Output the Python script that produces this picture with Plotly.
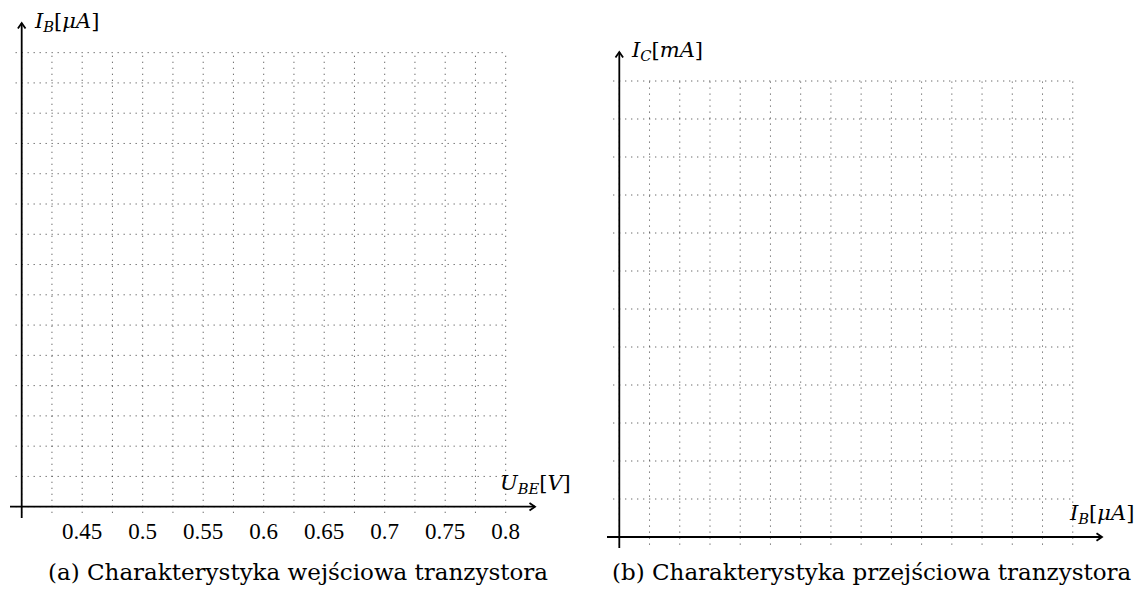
import plotly.graph_objects as go

W, H = 1139, 589

# ---------------- data ----------------
# (a) input characteristic: U_BE [V] on x, I_B [uA] on y (empty grid)
ube_ticks = [0.45, 0.5, 0.55, 0.6, 0.65, 0.7, 0.75, 0.8]
ube_ticktext = ["0.45", "0.5", "0.55", "0.6", "0.65", "0.7", "0.75", "0.8"]
ube_grid = [0.4, 0.425, 0.45, 0.475, 0.5, 0.525, 0.55, 0.575, 0.6,
            0.625, 0.65, 0.675, 0.7, 0.725, 0.75, 0.775, 0.8]
ib_rows = [0, 1, 2, 3, 4, 5, 6, 7, 8, 9, 10, 11, 12, 13, 14, 15]

# (b) transfer characteristic: I_B [uA] on x, I_C [mA] on y (empty grid)
ib_cols = [0, 1, 2, 3, 4, 5, 6, 7, 8, 9, 10, 11, 12, 13, 14, 15]
ic_rows = [0, 1, 2, 3, 4, 5, 6, 7, 8, 9, 10, 11, 12]

captions = ["(a) Charakterystyka wejściowa tranzystora",
            "(b) Charakterystyka przejściowa tranzystora"]

# ---------------- geometry (pixels) ----------------
L = dict(x0=21.7, xs=30.25 / 0.025, y0=506.7, ys=30.27, xbase=0.4,
         dom_x=(2, 565), dom_y=(8, 520))
R = dict(x0=619.3, xs=30.23, y0=537.0, ys=38.0, xbase=0.0,
         dom_x=(598, 1125), dom_y=(40, 556))

TICKFONT = "Liberation Serif, DejaVu Serif, serif"
TEXTFONT = "DejaVu Serif, Liberation Serif, serif"


def px2x(g, px):
    return g["xbase"] + (px - g["x0"]) / g["xs"]


def px2y(g, py):
    return (g["y0"] - py) / g["ys"]


def paper_x(px):
    return px / W


def paper_y(py):
    return 1 - py / H


fig = go.Figure()


def panel(g, xgrid, yrows, xa, ya, ax_x_px, ax_y_px):
    # dotted grid
    gx, gy = [], []
    ylo = yrows[0] - 0.2
    for v in xgrid:
        gx += [v, v, None]
        gy += [ylo, yrows[-1], None]
    xlo = xgrid[0] - 0.2 * (xgrid[1] - xgrid[0])
    for r in yrows:
        gx += [xlo, xgrid[-1], None]
        gy += [r, r, None]
    fig.add_trace(go.Scatter(x=gx, y=gy, mode="lines", xaxis=xa, yaxis=ya,
                             line=dict(color="#3a3a3a", width=1, dash="1px,5px"),
                             hoverinfo="skip", showlegend=False))
    # axes lines
    x_axis0 = xgrid[0]
    xs0, xs1 = px2x(g, ax_x_px[0]), px2x(g, ax_x_px[1])
    ys0, ys1 = px2y(g, ax_y_px[0]), px2y(g, ax_y_px[1])
    ax = [xs0, xs1, None, x_axis0, x_axis0, None]
    ay = [0, 0, None, ys0, ys1, None]
    # arrowheads (open chevrons)
    hx = 5.5 / g["xs"]
    hy = 5.5 / g["ys"]
    wx = 3.8 / g["xs"]
    wy = 3.8 / g["ys"]
    ax += [xs1 - hx, xs1, xs1 - hx, None]
    ay += [wy, 0, -wy, None]
    ax += [x_axis0 - wx, x_axis0, x_axis0 + wx, None]
    ay += [ys1 - hy, ys1, ys1 - hy, None]
    fig.add_trace(go.Scatter(x=ax, y=ay, mode="lines", xaxis=xa, yaxis=ya,
                             line=dict(color="black", width=1.8),
                             hoverinfo="skip", showlegend=False))


panel(L, ube_grid, ib_rows, "x", "y", (10, 535), (518, 23))
panel(R, ib_cols, ic_rows, "x2", "y2", (607, 1102), (548, 52))


def axis_layout(g, dom_x, dom_y):
    xr = [px2x(g, dom_x[0]), px2x(g, dom_x[1])]
    yr = [px2y(g, dom_y[1]), px2y(g, dom_y[0])]
    xd = [paper_x(dom_x[0]), paper_x(dom_x[1])]
    yd = [paper_y(dom_y[1]), paper_y(dom_y[0])]
    return xr, yr, xd, yd


xr, yr, xd, yd = axis_layout(L, L["dom_x"], L["dom_y"])
xr2, yr2, xd2, yd2 = axis_layout(R, R["dom_x"], R["dom_y"])

common = dict(showgrid=False, zeroline=False, showline=False, fixedrange=True)
fig.update_layout(
    width=W, height=H,
    margin=dict(l=0, r=0, t=0, b=0),
    paper_bgcolor="white", plot_bgcolor="white",
    showlegend=False,
    font=dict(family=TEXTFONT, size=21, color="black"),
    xaxis=dict(domain=xd, range=xr, tickvals=ube_ticks, ticktext=ube_ticktext,
               ticks="", ticklabelstandoff=-5,
               tickfont=dict(family=TICKFONT, size=23, color="black"),
               anchor="y", **common),
    yaxis=dict(domain=yd, range=yr, showticklabels=False, ticks="",
               anchor="x", **common),
    xaxis2=dict(domain=xd2, range=xr2, showticklabels=False, ticks="",
                anchor="y2", **common),
    yaxis2=dict(domain=yd2, range=yr2, showticklabels=False, ticks="",
                anchor="x2", **common),
)

lab = dict(font=dict(family=TEXTFONT, size=21, color="black"), showarrow=False,
           xref="paper", yref="paper")
fig.add_annotation(text="<i>I</i><sub><i>B</i></sub>[<i>μA</i>]",
                   x=paper_x(32), y=paper_y(22), xanchor="left", yanchor="middle", **lab)
fig.add_annotation(text="<i>U</i><sub><i>BE</i></sub>[<i>V</i>]",
                   x=paper_x(535), y=paper_y(499), xanchor="center", yanchor="bottom", **lab)
fig.add_annotation(text="<i>I</i><sub><i>C</i></sub>[<i>mA</i>]",
                   x=paper_x(629), y=paper_y(51), xanchor="left", yanchor="middle", **lab)
fig.add_annotation(text="<i>I</i><sub><i>B</i></sub>[<i>μA</i>]",
                   x=paper_x(1101), y=paper_y(529), xanchor="center", yanchor="bottom", **lab)

cap = dict(font=dict(family=TEXTFONT, size=23, color="black"), showarrow=False,
           xref="paper", yref="paper", yanchor="middle", xanchor="center")
fig.add_annotation(text=captions[0], x=paper_x(298), y=paper_y(572), **cap)
fig.add_annotation(text=captions[1], x=paper_x(872), y=paper_y(572), **cap)

fig.write_html("out.html", config={"displayModeBar": False},
               post_script="document.body.style.margin='0';"
                           "document.body.style.overflow='hidden';")
